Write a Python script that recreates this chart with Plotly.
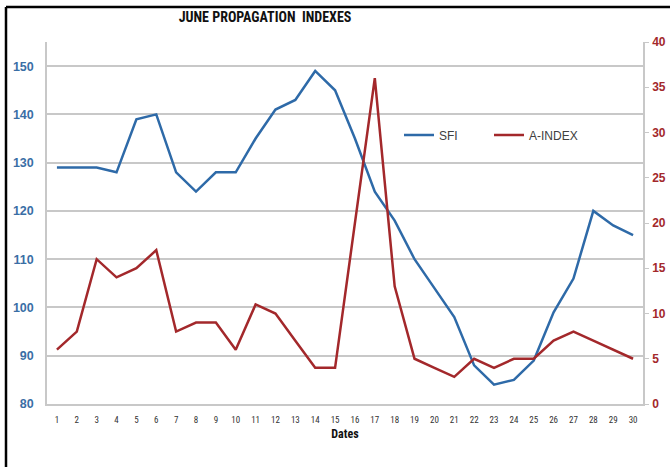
import plotly.graph_objects as go

dates = [str(d) for d in range(1, 31)]
sfi = [129, 129, 129, 128, 139, 140, 128, 124, 128, 128,
       135, 141, 143, 149, 145, 135, 124, 118, 110, 104,
       98, 88, 84, 85, 89, 99, 106, 120, 117, 115]
a_index = [6, 8, 16, 14, 15, 17, 8, 9, 9, 6,
           11, 10, 7, 4, 4, 20, 36, 13, 5, 4,
           3, 5, 4, 5, 5, 7, 8, 7, 6, 5]
left_ticks = [80, 90, 100, 110, 120, 130, 140, 150]
right_ticks = [0, 5, 10, 15, 20, 25, 30, 35, 40]

BLUE = "#2E6AA8"
RED = "#A3282B"
FONT = "Liberation Sans Narrow, Roboto Condensed, Liberation Sans, Arial"

fig = go.Figure()
fig.add_trace(go.Scatter(x=dates, y=sfi, name="SFI", mode="lines",
                         line=dict(color=BLUE, width=2.5), yaxis="y"))
fig.add_trace(go.Scatter(x=dates, y=a_index, name="A-INDEX", mode="lines",
                         line=dict(color=RED, width=2.5), yaxis="y2"))

fig.update_layout(
    width=670, height=467,
    margin=dict(l=47, r=27, t=42, b=63),
    paper_bgcolor="white", plot_bgcolor="white",
    font=dict(family=FONT, color="#404040"),
    title=dict(text="<b>JUNE PROPAGATION  INDEXES</b>", x=265/670, xanchor="center",
               y=1 - 17/467, yanchor="middle",
               font=dict(size=14, color="#111111", family=FONT)),
    xaxis=dict(type="category", tickvals=dates, ticktext=dates, automargin=False,
               showgrid=False, showline=True, linecolor="#C8C8C8", linewidth=1.5,
               ticks="", tickfont=dict(size=9, color="#333333"),
               ticklabelstandoff=6,
               title=dict(text="<b>Dates</b>", font=dict(size=12, color="#111111"), standoff=6),
               range=[-0.5, 29.5]),
    yaxis=dict(range=[80, 155], tickvals=left_ticks, automargin=False,
               ticktext=[f"<b>{v}</b>" for v in left_ticks], showgrid=True,
               gridcolor="#C8C8C8", gridwidth=1.5, showline=True,
               linecolor="#C8C8C8", linewidth=1.5, ticks="", zeroline=False,
               tickfont=dict(size=12.5, color="#3A6EA5", family="Liberation Sans"),
               ticklabelstandoff=9),
    yaxis2=dict(range=[0, 40], tickvals=right_ticks, automargin=False,
                ticktext=[f"<b>{v}</b>" for v in right_ticks],
                overlaying="y", side="right",
                showgrid=False, showline=True, linecolor="#C8C8C8", linewidth=1.5,
                ticks="outside", ticklen=4, tickcolor="#C8C8C8", zeroline=False,
                tickfont=dict(size=12, color=RED, family="Liberation Sans"),
                ticklabelstandoff=1),
    legend=dict(orientation="h", x=(399 - 47) / 596, y=(404 - 135) / 362,
                xanchor="left", yanchor="middle", bgcolor="rgba(0,0,0,0)",
                entrywidth=45, entrywidthmode="pixels", itemwidth=30,
                font=dict(size=12, color="#404040", family="Liberation Sans")),
    showlegend=True,
)

# chart border (top and left edges visible in the crop)
fig.add_shape(type="line", xref="paper", yref="paper",
              x0=-41 / 596, x1=623 / 596, y0=(404 - 7) / 362, y1=(404 - 7) / 362,
              line=dict(color="black", width=2.5))
fig.add_shape(type="line", xref="paper", yref="paper",
              x0=-41 / 596, x1=-41 / 596, y0=(404 - 7) / 362, y1=-63 / 362,
              line=dict(color="black", width=2.5))

fig.write_html("out.html", config={"displayModeBar": False},
               post_script="document.body.style.margin='0';"
                           "document.body.style.overflow='hidden';"
                           "document.documentElement.style.overflow='hidden';")
